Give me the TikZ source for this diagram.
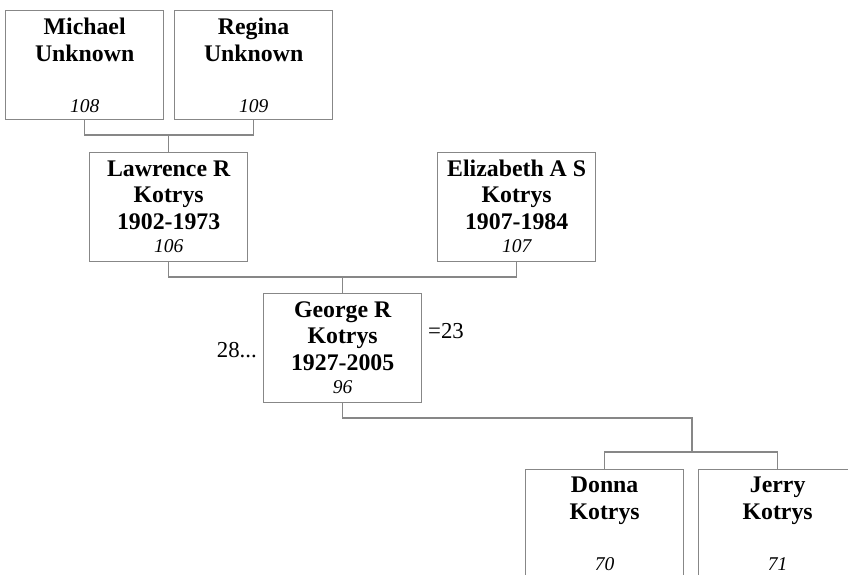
\documentclass[tikz,border=0pt]{standalone}
\usepackage{fontspec}
\setmainfont{Liberation Serif}
\definecolor{lineg}{RGB}{135,135,135}
\begin{document}
\begin{tikzpicture}[x=1pt,y=-1pt,
  box/.style={draw=lineg,line width=1.3pt,fill=white,minimum width=158pt,minimum height=109pt,inner sep=0pt,anchor=north west},
  conn/.style={draw=lineg,line width=1.3pt},
  nm/.style={anchor=base,inner sep=0pt,font=\fontsize{23.8}{26}\selectfont\bfseries},
  idn/.style={anchor=base,inner sep=0pt,font=\fontsize{19.5}{22}\selectfont\itshape},
  side/.style={inner sep=0pt,font=\fontsize{22.8}{26}\selectfont}]
\useasboundingbox (0,0) rectangle (848,574);
\begin{scope}
\clip (0,0) rectangle (848,574);
% boxes
\node[box] (michael) at (5,10) {};
\node[box] (regina) at (174,10) {};
\node[box] (lawrence) at (89,152) {};
\node[box] (elizabeth) at (437,152) {};
\node[box] (george) at (263,293) {};
\node[box] (donna) at (525,469) {};
\node[box] (jerry) at (698,469) {};
% connectors
\coordinate (y1) at (0,135);
\coordinate (bar1) at (lawrence.north |- y1);
\draw[conn] (michael.south) |- (bar1) -| (regina.south);
\draw[conn] (bar1) -- (lawrence.north);
\coordinate (y2) at (0,277);
\coordinate (bar2) at (george.north |- y2);
\draw[conn] (lawrence.south) |- (bar2) -| (elizabeth.south);
\draw[conn] (bar2) -- (george.north);
\coordinate (k1) at (692,418);
\coordinate (k2) at (692,452);
\draw[conn] (george.south) |- (k1) -- (k2);
\draw[conn] (donna.north) |- (k2) -| (jerry.north);
% texts
\node[nm] (t1) at ([yshift=-24pt]michael.north) {Michael};
\node[nm] (t2) at ([yshift=-51pt]michael.north) {Unknown};
\node[idn] (t3) at ([yshift=-102pt]michael.north) {108};
\node[nm] (t4) at ([yshift=-24pt]regina.north) {Regina};
\node[nm] (t5) at ([yshift=-51pt]regina.north) {Unknown};
\node[idn] (t6) at ([yshift=-102pt]regina.north) {109};
\node[nm] (t7) at ([yshift=-24pt]lawrence.north) {Lawrence R};
\node[nm] (t8) at ([yshift=-50pt]lawrence.north) {Kotrys};
\node[nm] (t9) at ([yshift=-77pt]lawrence.north) {1902-1973};
\node[idn] (t10) at ([yshift=-100pt]lawrence.north) {106};
\node[nm] (t11) at ([yshift=-24pt]elizabeth.north) {Elizabeth A S};
\node[nm] (t12) at ([yshift=-50pt]elizabeth.north) {Kotrys};
\node[nm] (t13) at ([yshift=-77pt]elizabeth.north) {1907-1984};
\node[idn] (t14) at ([yshift=-100pt]elizabeth.north) {107};
\node[nm] (t15) at ([yshift=-24pt]george.north) {George R};
\node[nm] (t16) at ([yshift=-50pt]george.north) {Kotrys};
\node[nm] (t17) at ([yshift=-77pt]george.north) {1927-2005};
\node[idn] (t18) at ([yshift=-100pt]george.north) {96};
\node[nm] (t19) at ([yshift=-23pt]donna.north) {Donna};
\node[nm] (t20) at ([yshift=-50pt]donna.north) {Kotrys};
\node[idn] (t21) at ([yshift=-101pt]donna.north) {70};
\node[nm] (t22) at ([yshift=-23pt]jerry.north) {Jerry};
\node[nm] (t23) at ([yshift=-50pt]jerry.north) {Kotrys};
\node[idn] (t24) at ([yshift=-101pt]jerry.north) {71};
\node[side,anchor=base east] (s1) at (257,357) {28...};
\node[side,anchor=base west] (s2) at (428,338) {=23};
\end{scope}
\end{tikzpicture}
\end{document}
